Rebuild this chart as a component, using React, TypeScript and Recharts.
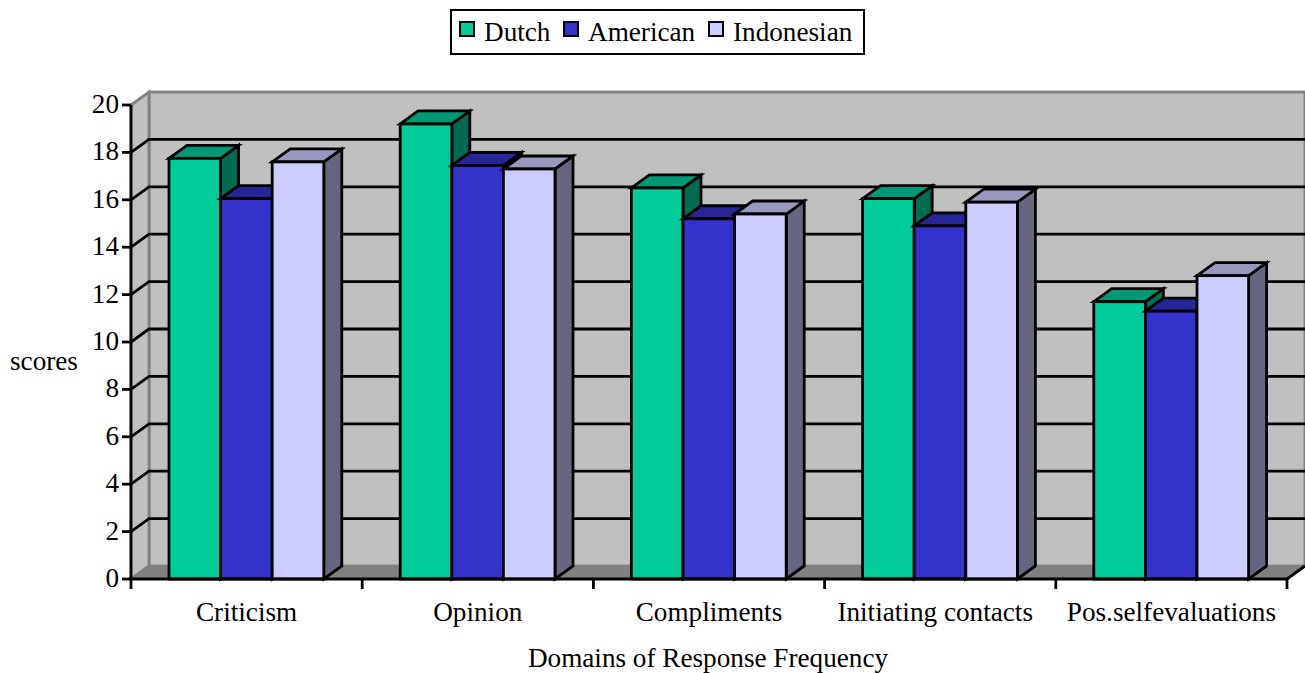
import React from 'react';
import { BarChart, Bar, XAxis, YAxis, CartesianGrid, Legend, usePlotArea } from 'recharts';

const categories = ['Criticism', 'Opinion', 'Compliments', 'Initiating contacts', 'Pos.selfevaluations'];
const dutch = [17.75, 19.2, 16.5, 16.05, 11.7];
const american = [16.05, 17.45, 15.2, 14.9, 11.3];
const indonesian = [17.6, 17.3, 15.4, 15.9, 12.8];
const yTicks = [0, 2, 4, 6, 8, 10, 12, 14, 16, 18, 20];
const categoryEdges = [0, 1, 2, 3, 4, 5];

const tableData = categories.map((name, i) => ({
  name,
  slot: i,
  Dutch: dutch[i],
  American: american[i],
  Indonesian: indonesian[i],
}));

const FONT = '"Liberation Serif", serif';
const FONT_SIZE = 27.2;
const DX = 18; // depth of the fake 3d
const DY = 13;
const STROKE = 2.8;

const Walls = () => {
  const area = usePlotArea();
  if (!area) return null;
  const { x, y, width, height } = area;
  const bottom = y + height;
  const right = x + width;
  return (
    <g>
      <rect x={x + DX} y={y - DY} width={width} height={height} fill="#c0c0c0" stroke="#808080" strokeWidth={STROKE} />
      <polygon points={`${x},${y} ${x + DX},${y - DY} ${x + DX},${bottom - DY} ${x},${bottom}`} fill="#c0c0c0" stroke="#808080" strokeWidth={STROKE} />
      <polygon points={`${x},${bottom} ${x + DX},${bottom - DY} ${right + DX},${bottom - DY} ${right},${bottom}`} fill="#808080" stroke="#808080" strokeWidth={1} />
      <line x1={right} y1={bottom} x2={right + DX} y2={bottom - DY} stroke="#000" strokeWidth={STROKE} />
    </g>
  );
};

// gridline runs along the side wall then across the back wall
const gridLine = (props: any) => {
  const { x1, x2, y1, index } = props;
  if (index === 0 || index === yTicks.length - 1) return <g key={`grid-${index}`} />;
  return (
    <polyline
      key={`grid-${index}`}
      points={`${x1},${y1} ${x1 + DX},${y1 - DY} ${x2 + DX},${y1 - DY}`}
      fill="none"
      stroke="#000"
      strokeWidth={STROKE}
    />
  );
};

const box3d = (topFill: string, sideFill: string) => (props: any) => {
  const { x, y, width, height, fill } = props;
  const r = x + width;
  const b = y + height;
  return (
    <g stroke="#000" strokeWidth={STROKE} strokeLinejoin="miter">
      <polygon points={`${r},${y} ${r + DX},${y - DY} ${r + DX},${b - DY} ${r},${b}`} fill={sideFill} />
      <polygon points={`${x},${y} ${x + DX},${y - DY} ${r + DX},${y - DY} ${r},${y}`} fill={topFill} />
      <rect x={x} y={y} width={width} height={height} fill={fill} />
    </g>
  );
};

// the long label sits a little left of its category in the original
const CategoryTick = (props: any) => {
  const { x, y, payload } = props;
  const nudge = payload.value === 'Initiating contacts' ? -5 : 0;
  return (
    <text x={x + nudge} y={y} dy={19} textAnchor="middle" fontFamily={FONT} fontSize={FONT_SIZE} fill="#000">
      {payload.value}
    </text>
  );
};

const ValueTick = (props: any) => {
  const { x, y, payload } = props;
  return (
    <text x={x} y={y} dy={8} textAnchor="end" fontFamily={FONT} fontSize={FONT_SIZE} fill="#000">
      {payload.value}
    </text>
  );
};

const LegendBox = ({ payload }: any) => {
  const swatchX = [9, 113, 258];
  const textX = [34, 138, 283];
  return (
    <div style={{ position: 'relative', width: 1305, height: 54 }}>
      <div
        style={{
          position: 'absolute',
          left: 450,
          top: 9,
          width: 411,
          height: 42,
          border: '2.8px solid #000',
          background: '#fff',
          fontFamily: FONT,
          fontSize: FONT_SIZE,
        }}
      >
        {(payload || []).map((item: any, i: number) => (
          <React.Fragment key={item.value}>
            <span
              style={{
                position: 'absolute',
                left: swatchX[i] - 2,
                top: 10,
                width: 12,
                height: 12,
                background: item.color,
                border: '2.5px solid #000',
              }}
            />
            <span style={{ position: 'absolute', left: textX[i] - 2, top: 5, lineHeight: '32px', color: '#000' }}>
              {item.value}
            </span>
          </React.Fragment>
        ))}
      </div>
    </div>
  );
};

const App: React.FC = () => {
  const tickStyle = { fontFamily: FONT, fontSize: FONT_SIZE, fill: '#000' };
  const axisLine = { stroke: '#000', strokeWidth: STROKE };
  return (
    <div style={{ position: 'absolute', left: 0, top: 0, width: 1305, height: 673, background: '#fff' }}>
      <BarChart
        width={1305}
        height={673}
        data={tableData}
        margin={{ top: 51, right: 18, bottom: 0, left: 0 }}
        barSize={51.6}
        barGap={0}
      >
        <Walls />
        <CartesianGrid vertical={false} horizontal={gridLine} zIndex={1} />
        {/* tick marks sit between the categories, so they get their own numeric axis */}
        <XAxis
          dataKey="slot"
          type="number"
          scale="linear"
          domain={[0, 5]}
          allowDataOverflow
          ticks={categoryEdges}
          interval={0}
          height={1}
          tick={() => <g />}
          tickSize={10}
          tickLine={axisLine}
          axisLine={axisLine}
        />
        <XAxis
          xAxisId="names"
          dataKey="name"
          interval={0}
          height={93}
          tick={<CategoryTick />}
          tickSize={0}
          tickMargin={22}
          tickLine={false}
          axisLine={false}
          label={{ value: 'Domains of Response Frequency', position: 'insideBottom', offset: 6, dx: -1, style: tickStyle }}
        />
        <YAxis
          width={131}
          domain={[0, 20]}
          ticks={yTicks}
          interval={0}
          tick={<ValueTick />}
          tickSize={9}
          tickMargin={3}
          tickLine={axisLine}
          axisLine={axisLine}
          label={{ value: 'scores', position: 'insideLeft', offset: 10, dy: 18, style: tickStyle }}
        />
        <Legend verticalAlign="top" itemSorter={null} content={<LegendBox />} wrapperStyle={{ left: 0, top: 0, width: 1305, height: 54 }} />
        <Bar xAxisId="names" dataKey="Dutch" fill="#00cc99" isAnimationActive={false} shape={box3d('#009973', '#006b50')} />
        <Bar xAxisId="names" dataKey="American" fill="#3333cc" isAnimationActive={false} shape={box3d('#262699', '#1a1a66')} />
        <Bar xAxisId="names" dataKey="Indonesian" fill="#ccccff" isAnimationActive={false} shape={box3d('#9999bf', '#666680')} />
      </BarChart>
    </div>
  );
};

export default App;
